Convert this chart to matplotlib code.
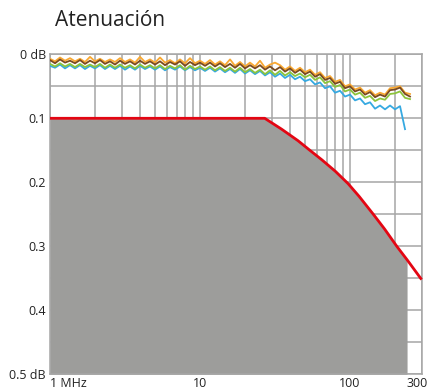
import matplotlib.pyplot as plt
from matplotlib.ticker import FixedLocator, LogLocator, MultipleLocator, NullFormatter
from matplotlib.transforms import offset_copy

# frequency points (MHz) shared by the measured curves
freq = [1.0, 1.08, 1.166, 1.259, 1.359, 1.468, 1.585, 1.711, 1.848, 1.995,
        2.154, 2.326, 2.512, 2.712, 2.929, 3.162, 3.415, 3.687, 3.981, 4.299,
        4.642, 5.012, 5.412, 5.843, 6.310, 6.813, 7.356, 7.943, 8.577, 9.261,
        10.0, 10.8, 11.66, 12.59, 13.59, 14.68, 15.85, 17.11, 18.48, 19.95,
        21.54, 23.26, 25.12, 27.12, 29.29, 31.62, 34.15, 36.87, 39.81, 42.99,
        46.42, 50.12, 54.12, 58.43, 63.10, 68.13, 73.56, 79.43, 85.77, 92.61,
        100.0, 108.0, 116.6, 125.9, 135.9, 146.8, 158.5, 171.1, 184.8, 199.5,
        215.4, 232.6, 251.2]

att_blue = [0.018, 0.021, 0.016, 0.022, 0.017, 0.022, 0.017, 0.023, 0.018, 0.022,
            0.017, 0.023, 0.018, 0.023, 0.018, 0.024, 0.019, 0.024, 0.018, 0.023,
            0.019, 0.024, 0.019, 0.025, 0.020, 0.024, 0.019, 0.025, 0.020, 0.025,
            0.021, 0.026, 0.021, 0.027, 0.022, 0.028, 0.023, 0.029, 0.023, 0.030,
            0.025, 0.031, 0.026, 0.033, 0.028, 0.035, 0.030, 0.037, 0.032, 0.039,
            0.035, 0.042, 0.039, 0.047, 0.044, 0.053, 0.050, 0.060, 0.057, 0.066,
            0.063, 0.072, 0.069, 0.078, 0.075, 0.085, 0.080, 0.086, 0.080, 0.086,
            0.081, 0.117]

att_orange = [0.007, 0.011, 0.005, 0.010, 0.006, 0.011, 0.007, 0.012, 0.004, 0.011,
              0.007, 0.012, 0.008, 0.012, 0.006, 0.012, 0.008, 0.013, 0.004, 0.012,
              0.008, 0.013, 0.005, 0.013, 0.009, 0.014, 0.008, 0.014, 0.006, 0.014,
              0.010, 0.015, 0.009, 0.016, 0.011, 0.017, 0.008, 0.018, 0.012, 0.019,
              0.013, 0.019, 0.010, 0.021, 0.016, 0.013, 0.017, 0.024, 0.019, 0.026,
              0.021, 0.028, 0.024, 0.032, 0.028, 0.037, 0.034, 0.043, 0.040, 0.050,
              0.047, 0.055, 0.052, 0.060, 0.056, 0.064, 0.060, 0.063, 0.053, 0.052,
              0.050, 0.060, 0.062]

att_green = [0.015, 0.019, 0.014, 0.019, 0.015, 0.020, 0.015, 0.020, 0.016, 0.020,
             0.015, 0.021, 0.016, 0.021, 0.016, 0.021, 0.017, 0.022, 0.016, 0.021,
             0.017, 0.022, 0.017, 0.023, 0.018, 0.022, 0.017, 0.024, 0.018, 0.023,
             0.019, 0.024, 0.019, 0.025, 0.020, 0.026, 0.021, 0.027, 0.021, 0.028,
             0.023, 0.029, 0.024, 0.031, 0.025, 0.032, 0.026, 0.033, 0.028, 0.034,
             0.030, 0.036, 0.032, 0.040, 0.036, 0.045, 0.042, 0.051, 0.048, 0.058,
             0.055, 0.063, 0.060, 0.068, 0.065, 0.073, 0.069, 0.071, 0.062, 0.061,
             0.058, 0.068, 0.070]

att_brown = [0.009, 0.014, 0.008, 0.013, 0.010, 0.014, 0.009, 0.015, 0.010, 0.014,
             0.009, 0.015, 0.011, 0.016, 0.010, 0.015, 0.011, 0.016, 0.010, 0.015,
             0.011, 0.016, 0.011, 0.017, 0.012, 0.016, 0.011, 0.018, 0.012, 0.017,
             0.013, 0.018, 0.013, 0.019, 0.014, 0.020, 0.015, 0.021, 0.015, 0.022,
             0.017, 0.022, 0.017, 0.024, 0.019, 0.025, 0.020, 0.027, 0.022, 0.029,
             0.024, 0.031, 0.027, 0.035, 0.031, 0.040, 0.037, 0.046, 0.043, 0.053,
             0.050, 0.058, 0.055, 0.063, 0.059, 0.067, 0.063, 0.066, 0.056, 0.055,
             0.052, 0.062, 0.066]

# limit curve (red) and its shaded area
limit_freq = [1, 27, 35, 45, 54, 65, 80, 97, 115, 143, 170, 205, 240, 300]
limit_db = [0.1, 0.1, 0.117, 0.135, 0.15, 0.165, 0.183, 0.202, 0.222, 0.25,
            0.273, 0.3, 0.321, 0.352]
fill_end = 13  # shading stops at 240 MHz

x_ticks = [1, 10, 100, 300]
x_labels = ["1 MHz", "10", "100", "300"]
y_ticks = [0, 0.1, 0.2, 0.3, 0.4, 0.5]
y_labels = ["0 dB", "0.1", "0.2", "0.3", "0.4", "0.5 dB"]

GRID = "#a6a6a6"

plt.rcParams["font.family"] = ["Open Sans", "DejaVu Sans"]

fig = plt.figure(figsize=(4.3, 3.92), dpi=100)
ax = fig.add_axes([50 / 430, 17.7 / 392, 371.6 / 430, 320 / 392])

ax.fill_between(limit_freq[:fill_end], limit_db[:fill_end], 0.5,
                color="#9d9d9b", linewidth=0, zorder=2)
ax.plot(limit_freq, limit_db, color="#e30613", lw=2.0, zorder=4,
        solid_capstyle="butt", clip_on=False)

ax.plot(freq[:len(att_blue)], att_blue, color="#36a9e1", lw=1.3, zorder=3)
ax.plot(freq, att_orange, color="#f9a831", lw=1.3, zorder=3)
ax.plot(freq, att_green, color="#8cc43c", lw=1.3, zorder=3)
ax.plot(freq, att_brown, color="#7a4a1f", lw=1.3, zorder=3)

ax.set_xscale("log")
ax.set_xlim(1, 300)
ax.set_ylim(0.5, 0)

ax.xaxis.set_major_locator(FixedLocator(x_ticks))
ax.set_xticklabels(x_labels)
ax.xaxis.set_minor_locator(LogLocator(base=10, subs=range(2, 10)))
ax.xaxis.set_minor_formatter(NullFormatter())
ax.set_yticks(y_ticks)
ax.set_yticklabels(y_labels)
ax.yaxis.set_minor_locator(MultipleLocator(0.05))

ax.tick_params(which="both", length=0, labelsize=9, colors="#222222")
ax.tick_params(axis="x", pad=2)
ax.tick_params(axis="y", pad=3)

xlabels = ax.xaxis.get_ticklabels()
xlabels[0].set_horizontalalignment("left")
# pull "300" in a little so it stays on the canvas
xlabels[-1].set_transform(offset_copy(xlabels[-1].get_transform(), fig=fig,
                                      x=-4, units="dots"))

ax.grid(True, which="both", color=GRID, lw=1.1, zorder=1)
ax.set_axisbelow(True)
for s in ax.spines.values():
    s.set_color(GRID)
    s.set_linewidth(1.1)

fig.text(55 / 430, 1 - 20 / 392, "Atenuación", fontsize=15, color="#222222",
         va="center", ha="left")

fig.savefig("out.png", dpi=100)
